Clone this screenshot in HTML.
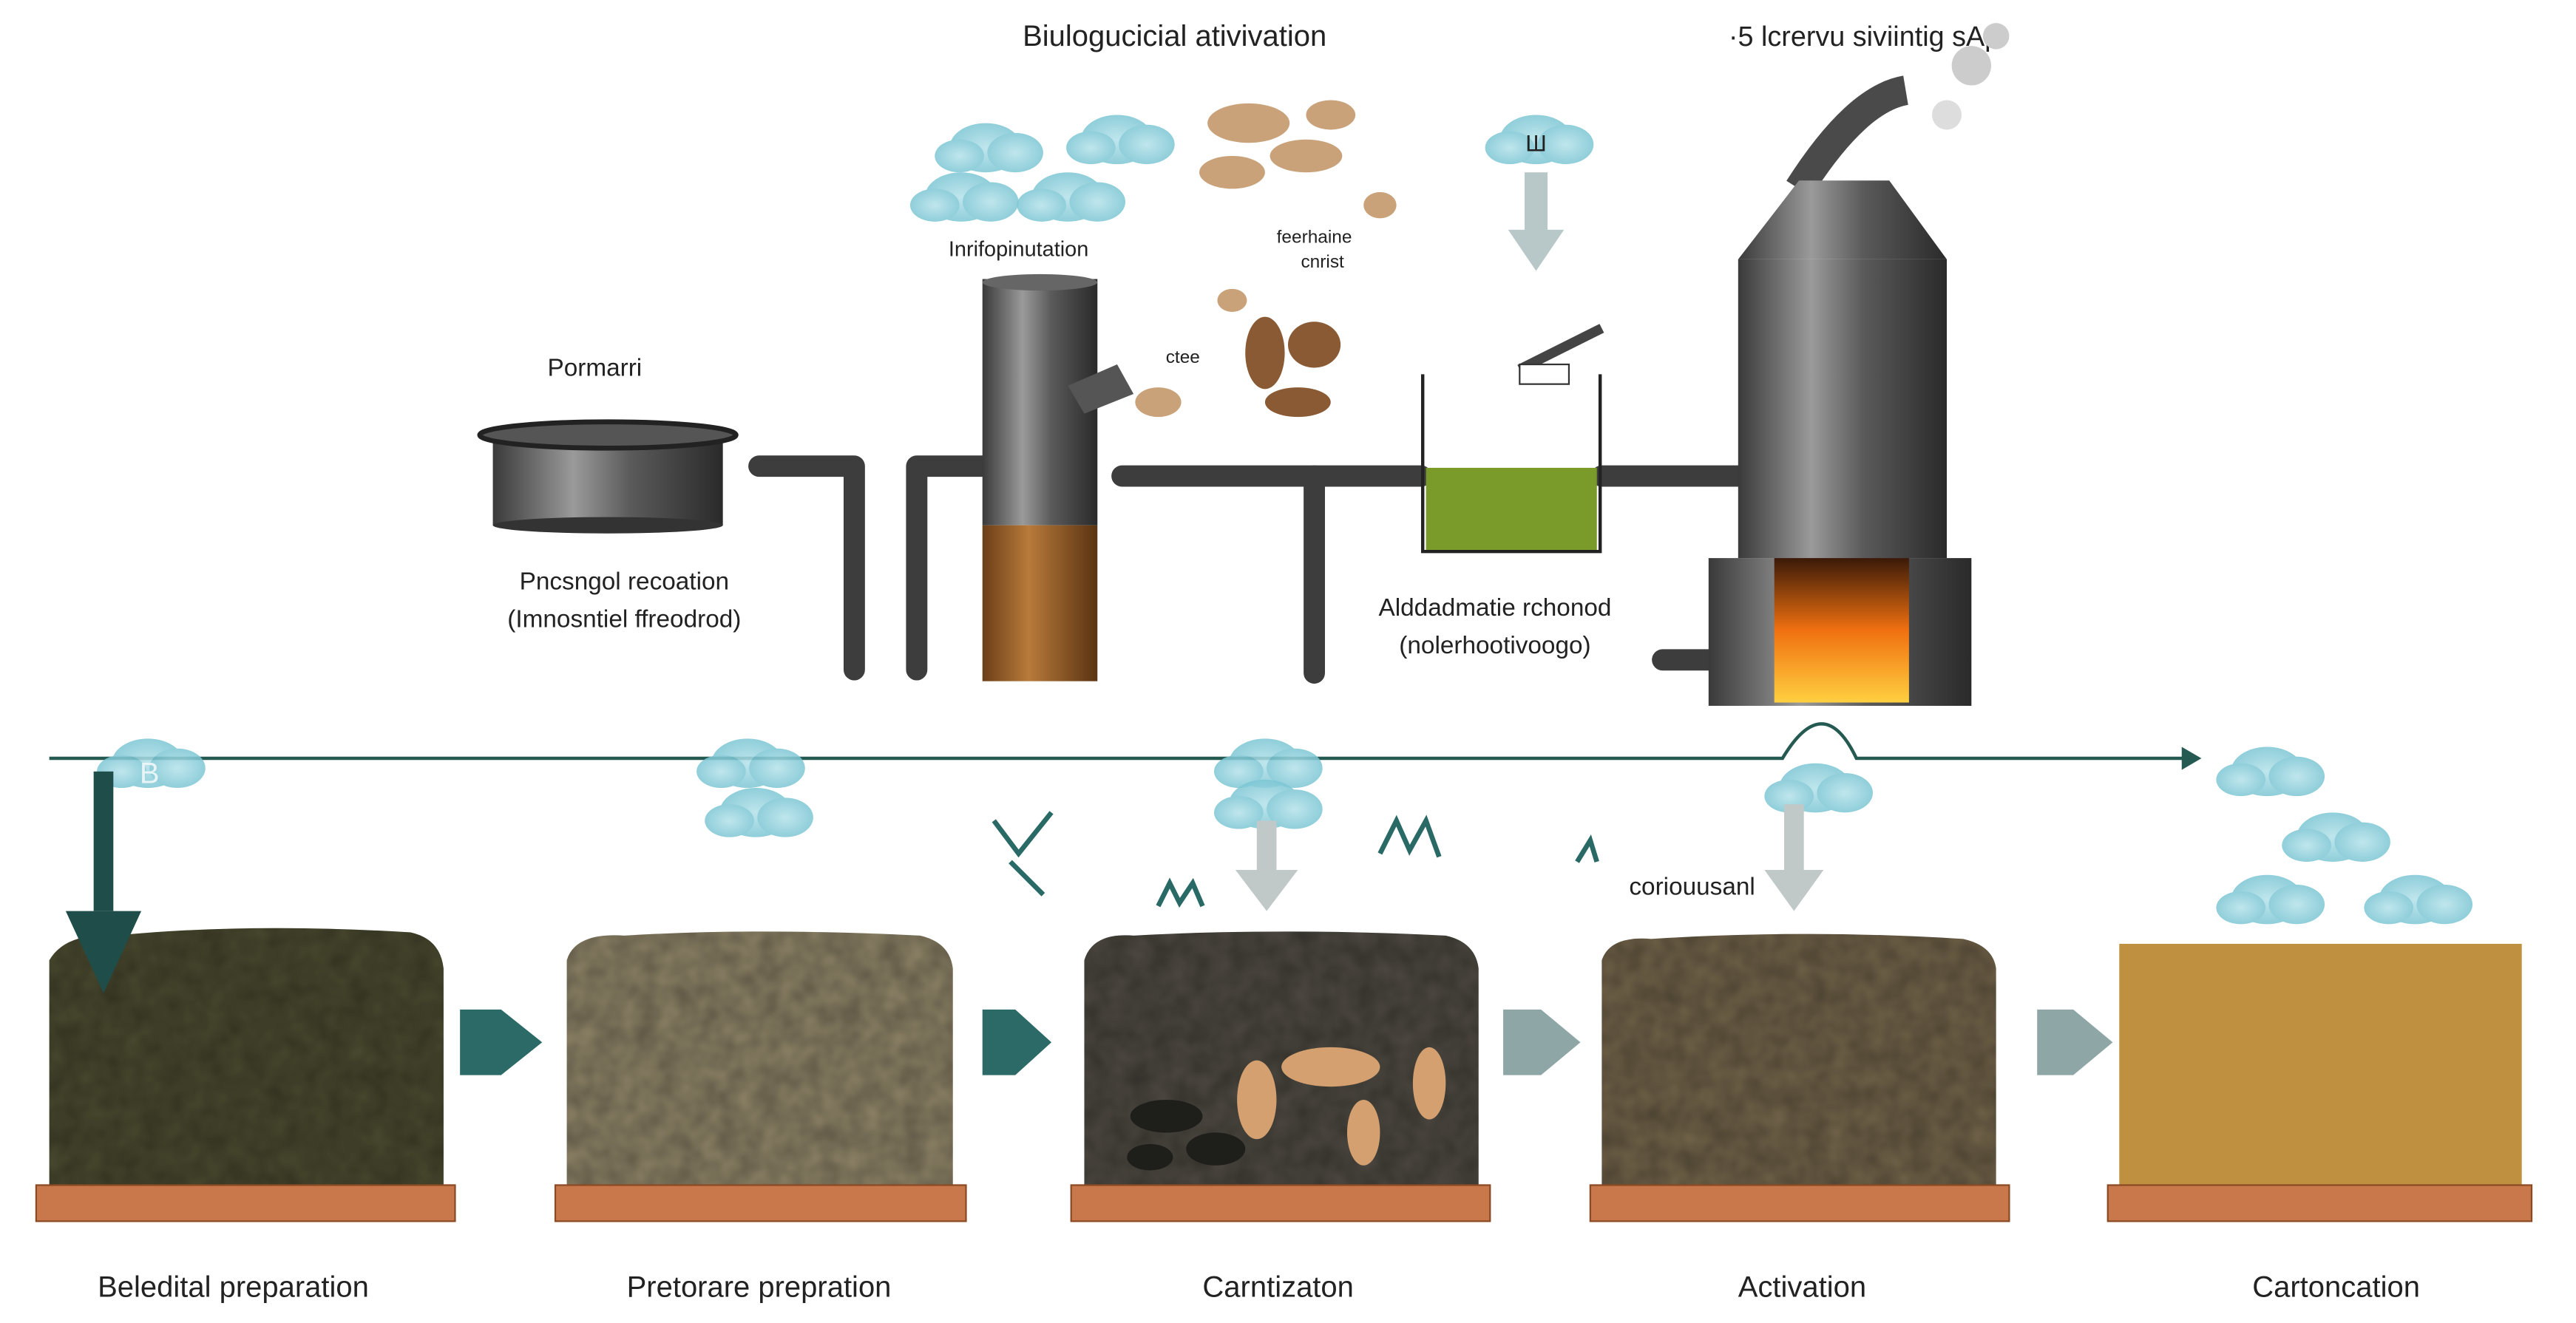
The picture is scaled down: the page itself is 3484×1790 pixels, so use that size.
<!DOCTYPE html>
<html><head><meta charset="utf-8"><style>
html,body{margin:0;padding:0;background:#fff;}
svg{display:block;}
text{font-family:"Liberation Sans",sans-serif;fill:#222;}
</style></head><body>
<svg width="3484" height="1790" viewBox="0 0 1568 806" preserveAspectRatio="none" xmlns="http://www.w3.org/2000/svg">
<defs>
<linearGradient id="metal" x1="0" x2="1" y1="0" y2="0">
<stop offset="0" stop-color="#3a3a3a"/><stop offset="0.35" stop-color="#9a9a9a"/><stop offset="0.6" stop-color="#5a5a5a"/><stop offset="1" stop-color="#2a2a2a"/></linearGradient>
<linearGradient id="brown" x1="0" x2="1"><stop offset="0" stop-color="#6b3f18"/><stop offset="0.4" stop-color="#b87a3a"/><stop offset="1" stop-color="#5a3312"/></linearGradient>
<linearGradient id="fire" x1="0" y1="1" x2="0" y2="0"><stop offset="0" stop-color="#ffd040"/><stop offset="0.5" stop-color="#f07010"/><stop offset="1" stop-color="#3a1a08"/></linearGradient>
<radialGradient id="cloud"><stop offset="0" stop-color="#b5e2ea"/><stop offset="1" stop-color="#7cc6d4"/></radialGradient>
<g id="cl" opacity="0.85"><ellipse cx="0" cy="0" rx="22" ry="15" fill="url(#cloud)"/><ellipse cx="18" cy="3" rx="17" ry="12" fill="url(#cloud)"/><ellipse cx="-16" cy="5" rx="15" ry="10" fill="url(#cloud)"/></g>
<filter id="tex" x="0" y="0" width="1" height="1"><feTurbulence type="fractalNoise" baseFrequency="0.08" numOctaves="2"/><feColorMatrix values="0 0 0 0 0 0 0 0 0 0 0 0 0 0 0 0 0 0 0.35 0"/><feComposite in2="SourceGraphic" operator="in"/></filter>
<path id="b1" d="M30 723 V585 Q40 568 70 570 Q150 562 250 568 Q268 572 270 590 V723 Z"/>
<path id="b2" d="M345 723 V585 Q350 568 380 570 Q460 565 560 570 Q578 574 580 590 V723 Z"/>
<path id="b3" d="M660 723 V585 Q665 568 690 570 Q780 565 880 570 Q898 574 900 590 V723 Z"/>
<path id="b4" d="M975 723 V585 Q980 570 1005 572 Q1100 566 1195 572 Q1213 576 1215 590 V723 Z"/>
</defs>

<text x="715" y="28" font-size="18" text-anchor="middle">Biulogucicial ativivation</text>
<text x="1135" y="28" font-size="17" text-anchor="middle">·5 lcrervu siviintig sAβ</text>

<use href="#cl" x="600" y="90"/><use href="#cl" x="680" y="85"/><use href="#cl" x="585" y="120"/><use href="#cl" x="650" y="120"/>
<use href="#cl" x="935" y="85"/>
<rect x="928" y="105" width="14" height="40" fill="#b8c8c8"/><polygon points="918,140 952,140 935,165" fill="#b8c8c8"/>
<text x="935" y="92" font-size="14" text-anchor="middle">Ш</text>
<g fill="#c9a27a"><ellipse cx="760" cy="75" rx="25" ry="12"/><ellipse cx="795" cy="95" rx="22" ry="10"/><ellipse cx="750" cy="105" rx="20" ry="10"/><ellipse cx="810" cy="70" rx="15" ry="9"/><ellipse cx="840" cy="125" rx="10" ry="8"/></g>
<g fill="#8a5a34"><ellipse cx="800" cy="210" rx="16" ry="14"/><ellipse cx="770" cy="215" rx="12" ry="22"/><ellipse cx="790" cy="245" rx="20" ry="9"/><ellipse cx="750" cy="183" rx="9" ry="7" fill="#c9a27a"/><ellipse cx="705" cy="245" rx="14" ry="9" fill="#c9a27a"/></g>
<text x="620" y="156" font-size="13" text-anchor="middle">Inrifopinutation</text>
<text x="800" y="148" font-size="11" text-anchor="middle">feerhaine</text>
<text x="805" y="163" font-size="11" text-anchor="middle">cnrist</text>
<text x="720" y="221" font-size="11" text-anchor="middle">ctee</text>

<text x="362" y="229" font-size="15" text-anchor="middle">Pormarri</text>
<rect x="300" y="265" width="140" height="55" fill="url(#metal)"/>
<ellipse cx="370" cy="320" rx="70" ry="5" fill="#333"/>
<ellipse cx="370" cy="265" rx="78" ry="8" fill="#555" stroke="#222" stroke-width="3"/>
<text x="380" y="359" font-size="15" text-anchor="middle">Pncsngol recoation</text>
<text x="380" y="382" font-size="15" text-anchor="middle">(Imnosntiel ffreodrod)</text>

<g fill="none" stroke="#3d3d3d" stroke-width="13" stroke-linecap="round" stroke-linejoin="round">
<path d="M462 284 H520 V408"/>
<path d="M558 408 V284 H600"/>
<path d="M683 290 H865"/>
<path d="M800 290 V410"/>
<path d="M975 290 H1060"/>
<path d="M1012 402 H1040"/>
</g>
<rect x="598" y="170" width="70" height="150" fill="url(#metal)"/>
<rect x="598" y="320" width="70" height="95" fill="url(#brown)"/>
<ellipse cx="633" cy="172" rx="35" ry="5" fill="#666"/>
<polygon points="650,235 680,222 690,240 660,252" fill="#555"/>

<rect x="868" y="285" width="104" height="50" fill="#7a9a2a"/>
<path d="M866 228 V336 H974 V228" fill="none" stroke="#222" stroke-width="2"/>
<path d="M925 225 L975 200" stroke="#444" stroke-width="6"/>
<rect x="925" y="222" width="30" height="12" fill="#fff" stroke="#333"/>
<text x="910" y="375" font-size="15" text-anchor="middle">Alddadmatie rchonod</text>
<text x="910" y="398" font-size="15" text-anchor="middle">(nolerhootivoogo)</text>

<path d="M1095 115 Q1130 60 1160 55" stroke="#4a4a4a" stroke-width="18" fill="none"/>
<polygon points="1095,110 1150,110 1185,158 1058,158" fill="url(#metal)"/>
<rect x="1058" y="158" width="127" height="182" fill="url(#metal)"/>
<rect x="1040" y="340" width="160" height="90" fill="url(#metal)"/>
<rect x="1080" y="340" width="82" height="88" fill="url(#fire)"/>
<circle cx="1200" cy="40" r="12" fill="#ccc"/><circle cx="1185" cy="70" r="9" fill="#ddd"/><circle cx="1215" cy="22" r="8" fill="#ccc"/>

<path d="M30 462 H1085 Q1110 420 1130 462 H1335" fill="none" stroke="#255a52" stroke-width="2"/>
<polygon points="1340,462 1328,455 1328,469" fill="#255a52"/>

<use href="#b1" fill="#4a4a30"/><use href="#b2" fill="#8f8468"/><use href="#b3" fill="#4e4a42"/><use href="#b4" fill="#72644a"/>
<rect x="1290" y="575" width="245" height="148" fill="#bf9040"/>
<g filter="url(#tex)" fill="#000"><use href="#b1"/></g>
<g filter="url(#tex)" fill="#000"><use href="#b2"/></g>
<g filter="url(#tex)" fill="#000"><use href="#b3"/></g>
<g filter="url(#tex)" fill="#000"><use href="#b4"/></g>
<g fill="#d4a070"><ellipse cx="810" cy="650" rx="30" ry="12"/><ellipse cx="765" cy="670" rx="12" ry="24"/><ellipse cx="830" cy="690" rx="10" ry="20"/><ellipse cx="870" cy="660" rx="10" ry="22"/></g>
<g fill="#1e1e1a"><ellipse cx="710" cy="680" rx="22" ry="10"/><ellipse cx="740" cy="700" rx="18" ry="10"/><ellipse cx="700" cy="705" rx="14" ry="8"/></g>
<g fill="#c8784a" stroke="#8a4a24" stroke-width="1">
<rect x="22" y="722" width="255" height="22"/><rect x="338" y="722" width="250" height="22"/>
<rect x="652" y="722" width="255" height="22"/><rect x="968" y="722" width="255" height="22"/>
<rect x="1283" y="722" width="258" height="22"/></g>

<use href="#cl" x="90" y="465"/><use href="#cl" x="455" y="465"/><use href="#cl" x="460" y="495"/>
<use href="#cl" x="770" y="465"/><use href="#cl" x="770" y="490"/>
<use href="#cl" x="1105" y="480"/>
<use href="#cl" x="1380" y="470"/><use href="#cl" x="1420" y="510"/><use href="#cl" x="1380" y="548"/><use href="#cl" x="1470" y="548"/>
<text x="85" y="477" font-size="18" style="fill:#e8f4f6">B</text>

<rect x="57" y="470" width="12" height="85" fill="#1f4e4a"/>
<polygon points="40,555 86,555 63,605" fill="#1f4e4a"/>
<rect x="765" y="500" width="12" height="30" fill="#c0c8c8"/><polygon points="752,530 790,530 771,555" fill="#c0c8c8"/>
<rect x="1086" y="490" width="12" height="45" fill="#c0c8c8"/><polygon points="1074,530 1110,530 1092,555" fill="#c0c8c8"/>
<text x="1030" y="545" font-size="15" text-anchor="middle">coriouusanl</text>
<g fill="none" stroke="#2a6a66" stroke-width="3">
<path d="M605 500 L620 520 L640 495 M615 525 L635 545"/>
<path d="M840 520 L850 500 L858 518 L868 500 L876 522"/>
<path d="M705 552 L712 538 L718 550 L726 538 L732 552"/>
<path d="M960 525 L968 512 L972 525"/>
</g>

<polygon points="280,615 305,615 330,635 305,655 280,655" fill="#2b6a66"/>
<polygon points="598,615 618,615 640,635 618,655 598,655" fill="#2b6a66"/>
<polygon points="915,615 938,615 962,635 938,655 915,655" fill="#8fa6a6"/>
<polygon points="1240,615 1262,615 1286,635 1262,655 1240,655" fill="#8fa6a6"/>

<text x="142" y="790" font-size="18" text-anchor="middle">Beledital preparation</text>
<text x="462" y="790" font-size="18" text-anchor="middle">Pretorare prepration</text>
<text x="778" y="790" font-size="18" text-anchor="middle">Carntizaton</text>
<text x="1097" y="790" font-size="18" text-anchor="middle">Activation</text>
<text x="1422" y="790" font-size="18" text-anchor="middle">Cartoncation</text>
</svg>
</body></html>
